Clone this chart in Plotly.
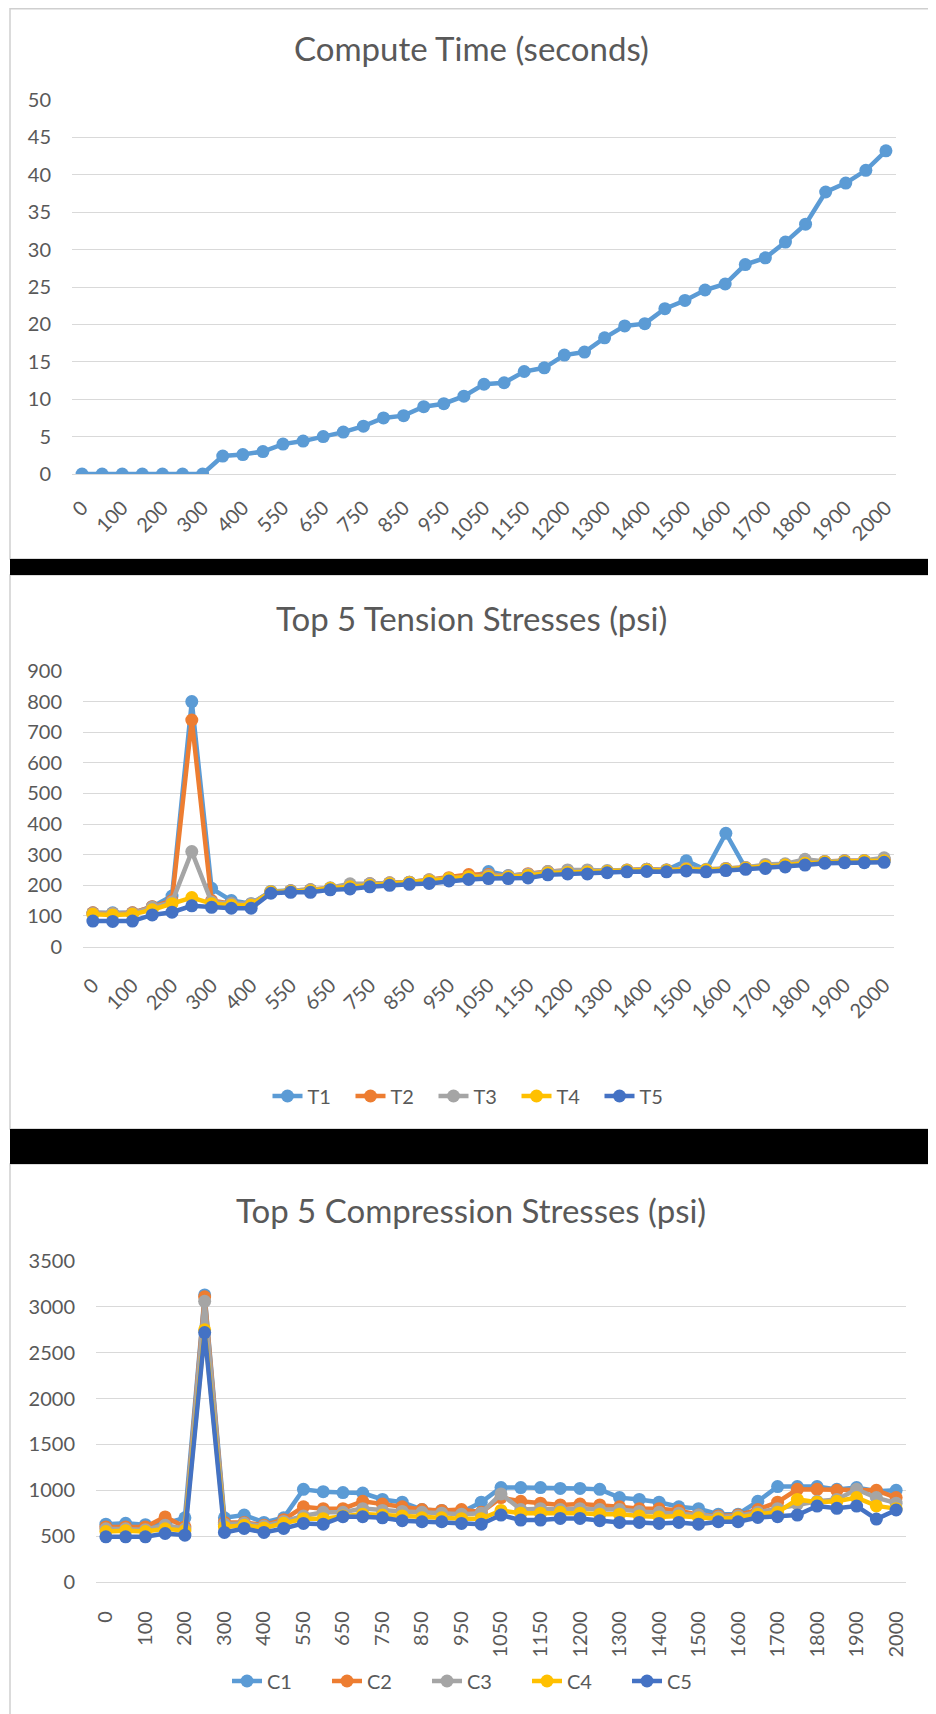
import plotly.graph_objects as go

# ---------------- data ----------------
categories = ['0', '50', '100', '150', '200', '250', '300', '350', '400', '500',
              '550', '600', '650', '700', '750', '800', '850', '900', '950', '1000',
              '1050', '1100', '1150', '1175', '1200', '1250', '1300', '1350', '1400', '1450',
              '1500', '1550', '1600', '1650', '1700', '1750', '1800', '1850', '1900', '1950', '2000']
tick_labels = categories[::2]

compute_time = [0, 0, 0, 0, 0, 0, 0, 2.4, 2.6, 3.0, 4.0, 4.4, 5.0, 5.6, 6.4, 7.5, 7.8, 9.0, 9.4, 10.4,
                12.0, 12.2, 13.7, 14.2, 15.9, 16.3, 18.2, 19.8, 20.1, 22.1, 23.2, 24.6, 25.4, 28.0, 28.9,
                31.0, 33.4, 37.7, 38.9, 40.6, 43.2]

T1 = [110, 110, 110, 130, 165, 800, 190, 150, 140, 180, 182, 185, 190, 200, 205, 206, 210, 215, 220, 225,
      245, 232, 235, 243, 245, 246, 245, 248, 252, 250, 280, 250, 370, 255, 262, 265, 275, 276, 280, 280, 285]
T2 = [110, 108, 110, 130, 150, 740, 150, 140, 138, 178, 182, 185, 190, 200, 205, 208, 210, 218, 225, 235,
      235, 230, 238, 245, 248, 248, 246, 250, 252, 250, 255, 250, 255, 258, 265, 268, 280, 278, 280, 280, 285]
T3 = [108, 108, 108, 128, 145, 310, 145, 140, 140, 180, 182, 185, 192, 205, 205, 208, 210, 218, 222, 228,
      232, 230, 236, 245, 250, 250, 248, 250, 252, 250, 255, 252, 255, 258, 268, 270, 285, 278, 280, 281, 290]
T4 = [105, 103, 105, 120, 140, 160, 140, 135, 135, 178, 180, 182, 190, 195, 200, 205, 208, 215, 222, 228,
      228, 227, 232, 240, 242, 243, 245, 248, 250, 248, 252, 250, 252, 256, 262, 266, 272, 276, 278, 279, 280]
T5 = [83, 82, 83, 103, 112, 133, 128, 125, 125, 174, 177, 177, 185, 188, 195, 200, 203, 206, 214, 219,
      222, 222, 224, 234, 237, 237, 241, 244, 245, 244, 247, 244, 248, 252, 255, 260, 266, 272, 274, 274, 275]

C1 = [630, 640, 625, 640, 700, 3130, 700, 730, 650, 700, 1010, 985, 975, 970, 900, 870, 790, 780, 760, 870,
      1030, 1030, 1030, 1020, 1020, 1010, 920, 900, 870, 820, 800, 740, 740, 880, 1040, 1040, 1040, 1010, 1030, 990, 1000]
C2 = [600, 600, 600, 710, 600, 3110, 650, 650, 620, 680, 820, 800, 800, 880, 850, 820, 790, 780, 790, 760,
      920, 880, 860, 840, 850, 840, 820, 800, 800, 780, 730, 720, 730, 790, 870, 1010, 1010, 1000, 1000, 1000, 920]
C3 = [580, 580, 570, 620, 580, 3060, 630, 640, 610, 660, 720, 760, 760, 800, 780, 770, 760, 750, 740, 750,
      960, 790, 800, 790, 800, 790, 790, 770, 760, 750, 730, 710, 720, 760, 800, 850, 880, 900, 1010, 920, 860]
C4 = [550, 560, 550, 580, 560, 2750, 600, 620, 590, 640, 690, 690, 720, 740, 730, 720, 700, 700, 690, 690,
      780, 750, 750, 760, 750, 740, 740, 720, 710, 720, 700, 690, 700, 740, 760, 900, 870, 880, 920, 830, 800]
C5 = [493, 493, 493, 529, 511, 2720, 540, 584, 540, 584, 639, 631, 712, 712, 700, 668, 657, 657, 639, 631,
      730, 675, 675, 693, 693, 668, 650, 650, 639, 650, 631, 657, 657, 704, 712, 730, 828, 803, 828, 686, 785]

tension_names = ['T1', 'T2', 'T3', 'T4', 'T5']
compression_names = ['C1', 'C2', 'C3', 'C4', 'C5']
series_colors = ['#5B9BD5', '#ED7D31', '#A5A5A5', '#FFC000', '#4472C4']

# ---------------- layout helpers ----------------
# the page body has an 8px margin, so the figure is made 8px smaller and
# all target (window) pixel positions are shifted by that offset
OFF = 8
WIN_W, WIN_H = 936, 1714
W, H = WIN_W - OFF, WIN_H - OFF
FONT = "Lato, 'Open Sans', sans-serif"
TXT = '#595959'
GRID = '#d9d9d9'
LW, MS = 4.5, 13


def fx(px):
    return (px - OFF) / W


def fy(py):
    return 1 - (py - OFF) / H


fig = go.Figure()

fig.add_trace(go.Scatter(x=categories, y=compute_time, mode='lines+markers',
                         xaxis='x', yaxis='y', showlegend=False,
                         line=dict(color='#5B9BD5', width=LW),
                         marker=dict(size=MS, color='#5B9BD5')))

for name, vals, col in zip(tension_names, [T1, T2, T3, T4, T5], series_colors):
    fig.add_trace(go.Scatter(x=categories, y=vals, mode='lines+markers', name=name,
                             xaxis='x2', yaxis='y2', legend='legend',
                             line=dict(color=col, width=LW),
                             marker=dict(size=MS, color=col)))

for name, vals, col in zip(compression_names, [C1, C2, C3, C4, C5], series_colors):
    fig.add_trace(go.Scatter(x=categories, y=vals, mode='lines+markers', name=name,
                             xaxis='x3', yaxis='y3', legend='legend2',
                             line=dict(color=col, width=LW),
                             marker=dict(size=MS, color=col)))


def xaxis_cfg(x0, x1, anchor, angle, size, standoff):
    return dict(type='category', categoryorder='array', categoryarray=categories,
                range=[-0.5, len(categories) - 0.5], domain=[fx(x0), fx(x1)], anchor=anchor,
                tickmode='array', tickvals=tick_labels, ticktext=tick_labels,
                tickangle=angle, showgrid=False, zeroline=False,
                showline=True, linecolor=GRID, linewidth=1.3, ticks='',
                tickfont=dict(family=FONT, size=size, color=TXT),
                ticklabelstandoff=standoff, automargin=False, fixedrange=True)


def yaxis_cfg(y_top, y_bot, anchor, rng, dt, size, standoff):
    return dict(range=rng, dtick=dt, tick0=0, domain=[fy(y_bot), fy(y_top)], anchor=anchor,
                showgrid=True, gridcolor=GRID, gridwidth=1.3, zeroline=False,
                showline=False, ticks='', tickfont=dict(family=FONT, size=size, color=TXT),
                ticklabelstandoff=standoff, automargin=False, fixedrange=True)


shapes = []
# panel frames
for (y0, y1) in [(8.8, 559), (575, 1129), (1164, 1716)]:
    shapes.append(dict(type='rect', xref='paper', yref='paper', x0=fx(10), x1=fx(933),
                       y0=fy(y1), y1=fy(y0), line=dict(color='#cfcfcf', width=1.5),
                       fillcolor='rgba(0,0,0,0)', layer='below'))
# black separator bars
for (y0, y1) in [(559, 575), (1129, 1164)]:
    shapes.append(dict(type='rect', xref='paper', yref='paper', x0=fx(10), x1=fx(936),
                       y0=fy(y1), y1=fy(y0), line=dict(width=0), fillcolor='black', layer='above'))

titles = [('Compute Time (seconds)', 48), ('Top 5 Tension Stresses (psi)', 618),
          ('Top 5 Compression Stresses (psi)', 1210)]
annotations = [dict(text=t, x=fx(471), y=fy(yy), xref='paper', yref='paper', showarrow=False,
                    xanchor='center', yanchor='middle',
                    font=dict(family=FONT, size=33, color=TXT)) for t, yy in titles]

fig.update_layout(
    width=W, height=H, margin=dict(l=0, r=0, t=0, b=0),
    paper_bgcolor='white', plot_bgcolor='white', template=None,
    xaxis=xaxis_cfg(72, 896, 'y', -45, 20, 13),
    yaxis=yaxis_cfg(100, 474, 'x', [0, 50], 5, 20, 20),
    xaxis2=xaxis_cfg(83, 894, 'y2', -45, 20, 18),
    yaxis2=yaxis_cfg(671, 946.5, 'x2', [0, 900], 100, 20, 20),
    xaxis3=xaxis_cfg(96, 906, 'y3', -90, 20, 20),
    yaxis3=yaxis_cfg(1261, 1582, 'x3', [0, 3500], 500, 20, 20),
    legend=dict(orientation='h', x=fx(475), y=fy(1096), xanchor='center', yanchor='middle',
                font=dict(family=FONT, size=20, color=TXT), itemwidth=30,
                bgcolor='rgba(0,0,0,0)', tracegroupgap=0, entrywidth=38),
    legend2=dict(orientation='h', x=fx(477), y=fy(1681), xanchor='center', yanchor='middle',
                 font=dict(family=FONT, size=20, color=TXT), itemwidth=30,
                 bgcolor='rgba(0,0,0,0)', tracegroupgap=0, entrywidth=55),
    shapes=shapes, annotations=annotations, showlegend=True,
)

fig.write_html("out.html")
